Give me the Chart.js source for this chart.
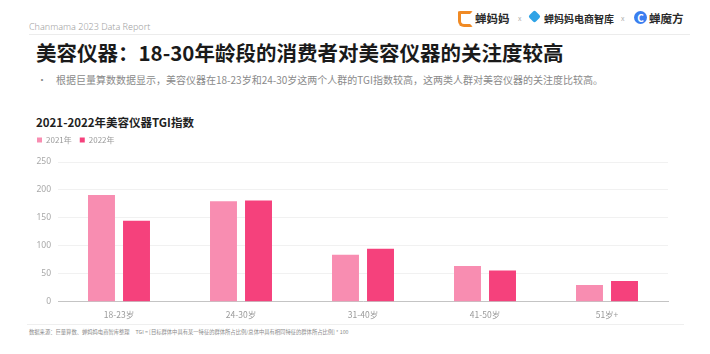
<!DOCTYPE html>
<html>
<head>
<meta charset="utf-8">
<script src="https://cdn.jsdelivr.net/npm/chart.js@4.4.0/dist/chart.umd.min.js"></script>
<style>
  body { margin: 0; width: 710px; height: 354px; background: #fff; position: relative; overflow: hidden;
         font-family: "Noto Sans CJK SC", "Noto Sans", sans-serif; }
  .abs { position: absolute; white-space: nowrap; }
  #report { left: 29px; top: 20px; font-size: 9px; color: #a0a0a0; font-family: "Noto Sans", sans-serif; font-weight: 300; }
  #topline { left: 29px; top: 34px; width: 661px; height: 1px; background: #ececec; }
  #title { left: 36px; top: 37px; font-size: 20.5px; font-weight: bold; color: #1a1a1a; }
  #bullet { left: 37px; top: 72px; font-size: 10px; color: #8a8a8a; }
  #bullet span { margin-left: 9px; }
  #ctitle { left: 36px; top: 114px; font-size: 11.5px; font-weight: bold; color: #1f1f1f; }
  #chartbox { position: absolute; left: 29px; top: 128px; width: 640px; height: 192px; }
  #botline { left: 27px; top: 324px; width: 657px; height: 1px; background: #efefef; }
  #footer { left: 29px; top: 328px; font-size: 5.3px; color: #8a8a8a; }
  .logo { font-weight: bold; color: #2a2a2a; top: 10px; font-size: 11px; }
  .x { top: 13px; font-size: 7px; color: #aaa; }
  #ic1 { left: 458px; top: 11px; width: 9px; height: 10px; border: 3px solid #f08a24; border-right-color: transparent; border-radius: 2px 2px 2px 6px; }
  #ic2 { left: 530px; top: 12px; width: 9px; height: 9px; background: #2fa3e6; transform: rotate(45deg); border-radius: 2px; }
  #ic3 { left: 634px; top: 11px; width: 13px; height: 13px; background: #3a7ef0; border-radius: 50%; color: #fff; font-size: 10px; font-weight: bold; text-align: center; line-height: 13px; }
</style>
</head>
<body>
<div class="abs" id="report">Chanmama 2023 Data Report</div>
<div class="abs" id="ic1"></div>
<div class="abs logo" style="left:475px;font-size:11.5px">蝉妈妈</div>
<div class="abs x" style="left:518px">x</div>
<div class="abs" id="ic2"></div>
<div class="abs logo" style="left:544px;font-size:10px;top:11px">蝉妈妈电商智库</div>
<div class="abs x" style="left:621px">x</div>
<div class="abs" id="ic3">C</div>
<div class="abs logo" style="left:649px;font-size:11.5px">蝉魔方</div>
<div class="abs" id="topline"></div>
<div class="abs" id="title">美容仪器：18-30年龄段的消费者对美容仪器的关注度较高</div>
<div class="abs" id="bullet">•<span>根据巨量算数数据显示，美容仪器在18-23岁和24-30岁这两个人群的TGI指数较高，这两类人群对美容仪器的关注度比较高。</span></div>
<div class="abs" id="ctitle">2021-2022年美容仪器TGI指数</div>
<div id="chartbox"><canvas id="tgiChart"></canvas></div>
<div class="abs" id="botline"></div>
<div class="abs" id="footer">数据来源：巨量算数、蝉妈妈电商智库整理&nbsp;&nbsp;&nbsp;&nbsp;&nbsp;TGI = [目标群体中具有某一特征的群体所占比例/总体中具有相同特征的群体所占比例] * 100</div>

<script>
// 数据
const ageGroups = ['18-23岁', '24-30岁', '31-40岁', '41-50岁', '51岁+'];
const tgi2021 = [191, 180, 84, 64, 30];
const tgi2022 = [145, 181, 95, 56, 37];
const yTicks = [0, 50, 100, 150, 200, 250];

const color2021 = '#f88db1';
const color2022 = '#f5417c';

// espaço extra abaixo da legenda
const legendMargin = {
    id: 'legendMargin',
    beforeInit(chart) {
        const fitOrig = chart.legend.fit;
        chart.legend.fit = function() {
            fitOrig.bind(chart.legend)();
            this.height += 8;
        };
    }
};

new Chart(document.getElementById('tgiChart'), {
    type: 'bar',
    data: {
        labels: ageGroups,
        datasets: [
            { label: '2021年', data: tgi2021, backgroundColor: color2021 },
            { label: '2022年', data: tgi2022, backgroundColor: color2022 }
        ]
    },
    options: {
        responsive: true,
        maintainAspectRatio: false,
        animation: false,
        layout: { padding: { left: 0, right: 1, top: 0, bottom: 0 } },
        datasets: {
            bar: { categoryPercentage: 0.574, barPercentage: 0.77 }
        },
        scales: {
            x: {
                grid: { display: false },
                border: { color: '#c4c4c4', width: 1 },
                ticks: { color: '#9a9a9a', padding: 0, font: { size: 8.5, family: 'Noto Sans CJK SC' } }
            },
            y: {
                min: yTicks[0],
                max: yTicks[yTicks.length - 1],
                afterBuildTicks: function(scale) {
                    scale.ticks = yTicks.map(v => ({ value: v }));
                },
                afterFit: function(scale) {
                    scale.width = 29;
                },
                grid: { color: '#f1f1f1', drawTicks: false },
                border: { display: false },
                ticks: { color: '#a8a8a8', padding: 7, font: { size: 8.5, family: 'Noto Sans' } }
            }
        },
        plugins: {
            legend: {
                position: 'top',
                align: 'start',
                labels: {
                    boxWidth: 5,
                    boxHeight: 5,
                    padding: 8,
                    color: '#9a9a9a',
                    font: { size: 8, family: 'Noto Sans CJK SC' }
                }
            },
            tooltip: { enabled: false }
        }
    },
    plugins: [legendMargin]
});
</script>
</body>
</html>
